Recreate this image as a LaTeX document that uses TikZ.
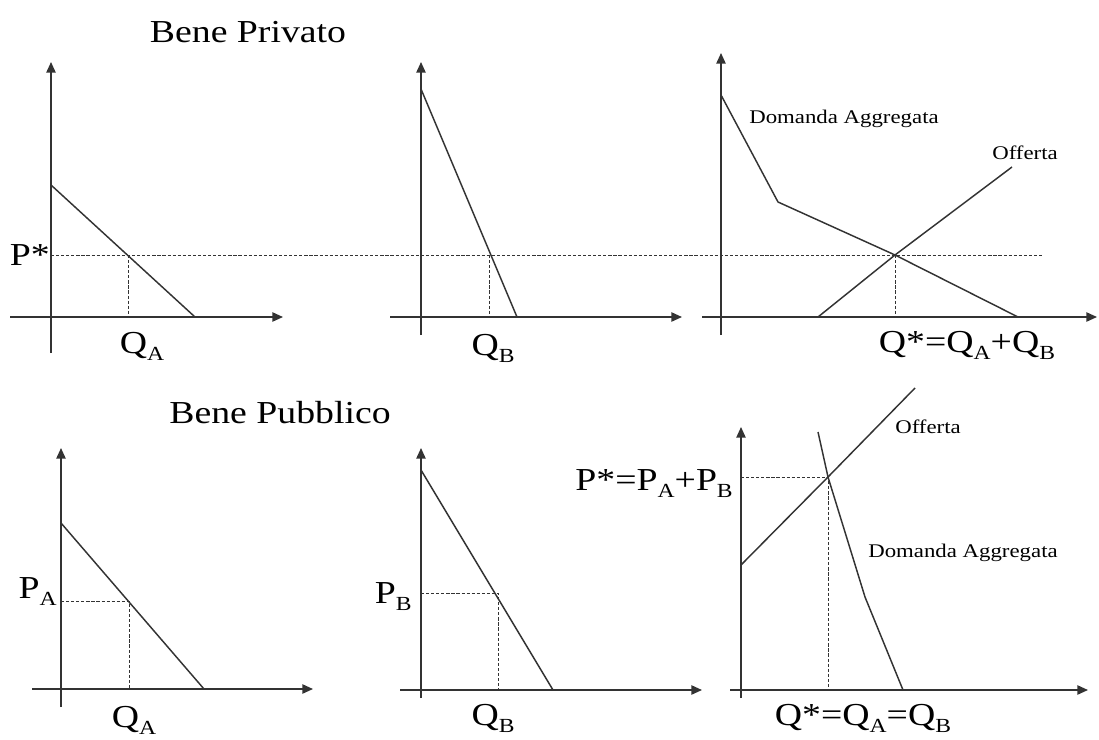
\documentclass[tikz,border=0pt]{standalone}
\usepackage{fontspec}
\setmainfont[FakeStretch=1.18]{Liberation Serif}
\usetikzlibrary{arrows.meta}
\tikzset{
  axisline/.style={line width=1.1pt,draw=black!80,-{Triangle[length=8pt,width=7pt]}},
  curve/.style={line width=1.1pt,draw=black!80,line join=round},
  guide/.style={line width=0.7pt,draw=black!80,dash pattern=on 2.4pt off 1.4pt},
  big/.style={font=\fontsize{24}{28}\selectfont,inner sep=0pt},
  small/.style={font=\fontsize{14.5}{17}\selectfont,inner sep=0pt}}
\newcommand{\lsub}[1]{\raisebox{-0.22em}{\fontsize{15}{15}\selectfont #1}}
% name, origin x, origin y, x from, x to, y from, y to
\newcommand{\axes}[7]{%
  \coordinate (#1) at (#2,#3);
  \draw[axisline] (#4,#3) -- (#5,#3);
  \draw[axisline] (#2,#6) -- (#2,#7);}

\begin{document}
\begin{tikzpicture}[x=0.75pt,y=-0.75pt]
  \useasboundingbox (0,0) rectangle (1099,739);

  % Bene Privato
  \node[big] (privtitle) at (248,32) {Bene Privato};
  \axes{oA}{51}{317}{10}{283}{353}{62}
  \axes{oB}{421}{317}{390}{682}{335}{62}
  \axes{oS}{721}{317}{702}{1097}{335}{53}
  \coordinate (eqA) at (128,255);
  \coordinate (eqB) at (489,255);
  \coordinate (eqS) at (895,255);
  \draw[guide] (51,255) -- (1042,255);
  \draw[guide] (eqA) -- (128,317);
  \draw[guide] (eqB) -- (489,317);
  \draw[guide] (eqS) -- (895,317);
  \draw[curve] (51,185) -- (195,317);
  \draw[curve] (421,89) -- (517,317);
  \draw[curve] (721,95) -- (778,202) -- (eqS) -- (1018,317);
  \draw[curve] (818,317) -- (eqS) -- (1012,167);
  \node[big,anchor=east] (pstar) at (50,255) {P*};
  \node[big,anchor=base] (qa) at (142,353) {Q\lsub{A}};
  \node[big,anchor=base] (qb) at (493,355) {Q\lsub{B}};
  \node[big,anchor=base] (qsum) at (967,352) {Q*=Q\lsub{A}+Q\lsub{B}};
  \node[small,anchor=base] (dempriv) at (844,123) {Domanda Aggregata};
  \node[small,anchor=base] (offpriv) at (1025,159) {Offerta};

  % Bene Pubblico
  \node[big] (pubtitle) at (280,413) {Bene Pubblico};
  \axes{pA}{61}{689}{32}{313}{707}{448}
  \axes{pB}{421}{690}{400}{702}{698}{448}
  \axes{pS}{741}{690}{730}{1088}{698}{427}
  \coordinate (ptA) at (129,601);
  \coordinate (ptB) at (498,593);
  \coordinate (ptS) at (828,477);
  \draw[guide] (61,601) -- (ptA) -- (129,689);
  \draw[guide] (421,593) -- (ptB) -- (498,690);
  \draw[guide] (741,477) -- (ptS) -- (828,690);
  \draw[curve] (61,523) -- (204,689);
  \draw[curve] (421,470) -- (553,690);
  \draw[curve] (741,565) -- (ptS) -- (915,388);
  \draw[curve] (818,432) -- (ptS) -- (865,597) -- (903,690);
  \node[big,anchor=base east] (pa) at (57,598) {P\lsub{A}};
  \node[big,anchor=base east] (pb) at (412,603) {P\lsub{B}};
  \node[big,anchor=base east] (psum) at (733,490) {P*=P\lsub{A}+P\lsub{B}};
  \node[big,anchor=base] (qa2) at (134,727) {Q\lsub{A}};
  \node[big,anchor=base] (qb2) at (493,725) {Q\lsub{B}};
  \node[big,anchor=base] (qeq) at (863,725) {Q*=Q\lsub{A}=Q\lsub{B}};
  \node[small,anchor=base] (offpub) at (928,433) {Offerta};
  \node[small,anchor=base] (dempub) at (963,557) {Domanda Aggregata};
\end{tikzpicture}
\end{document}
